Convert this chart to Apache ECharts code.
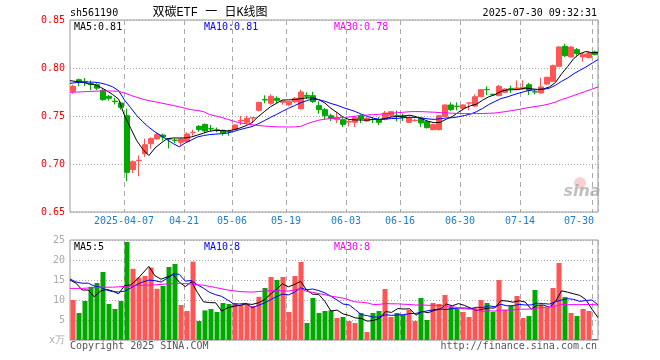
<!DOCTYPE html>
<html>
<head>
<meta charset="utf-8">
<script src="https://cdn.jsdelivr.net/npm/echarts@6/dist/echarts.min.js"></script>
<style>html,body{margin:0;padding:0;background:#fff}#c{width:660px;height:360px}</style>
</head>
<body>
<div id="c"></div>
<script>
const dates = ['03-24','03-25','03-26','03-27','03-28','03-31','04-01','04-02','04-03','04-07',
'04-08','04-09','04-10','04-11','04-14','04-15','04-16','04-17','04-18','04-21',
'04-22','04-23','04-24','04-25','04-28','04-29','04-30','05-06','05-07','05-08',
'05-09','05-12','05-13','05-14','05-15','05-16','05-19','05-20','05-21','05-22',
'05-23','05-26','05-27','05-28','05-29','05-30','06-03','06-04','06-05','06-06',
'06-09','06-10','06-11','06-12','06-13','06-16','06-17','06-18','06-19','06-20',
'06-23','06-24','06-25','06-26','06-27','06-30','07-01','07-02','07-03','07-04',
'07-07','07-08','07-09','07-10','07-11','07-14','07-15','07-16','07-17','07-18',
'07-21','07-22','07-23','07-24','07-25','07-28','07-29','07-30'];
const tickDates = ['04-07','04-21','05-06','05-19','06-03','06-16','06-30','07-14','07-30'];
const firstTickLabel = '2025-04-07';

const open = [0.7757,0.7878,0.786,0.7835,0.7826,0.7767,0.7705,0.7655,0.7635,0.7503,
0.6941,0.7034,0.7108,0.7212,0.7261,0.7302,0.7262,0.7249,0.7226,0.7233,
0.7327,0.7392,0.7413,0.7368,0.7355,0.7351,0.734,0.7358,0.7448,0.7434,
0.7479,0.7559,0.7671,0.7632,0.7684,0.7642,0.7618,0.7649,0.7575,0.7715,
0.7712,0.7608,0.7566,0.7503,0.7462,0.7462,0.7438,0.7434,0.7503,0.7448,
0.7463,0.7462,0.7469,0.7503,0.7504,0.7503,0.7434,0.7452,0.7476,0.7441,
0.7358,0.7358,0.7497,0.7615,0.7602,0.758,0.7635,0.7604,0.7701,0.7776,
0.7726,0.7712,0.7747,0.7785,0.7778,0.7781,0.7826,0.7753,0.774,0.7833,
0.7861,0.8017,0.8226,0.8115,0.8191,0.8115,0.8108,0.8167];
const close = [0.7809,0.7854,0.7855,0.783,0.779,0.767,0.7684,0.765,0.759,0.6913,
0.7024,0.7038,0.7201,0.7264,0.7306,0.7281,0.726,0.7246,0.726,0.7313,
0.733,0.7358,0.7344,0.7365,0.7354,0.7323,0.7337,0.7406,0.7455,0.7476,
0.7483,0.7642,0.7667,0.7705,0.7663,0.7656,0.7649,0.7684,0.775,0.7705,
0.765,0.7566,0.7503,0.7476,0.7483,0.7413,0.7441,0.7483,0.7469,0.7476,
0.7462,0.7434,0.7531,0.7545,0.75,0.7483,0.7483,0.7455,0.7427,0.7378,
0.741,0.7503,0.7615,0.7566,0.76,0.7615,0.7636,0.7701,0.7774,0.7774,
0.7722,0.7809,0.7781,0.7781,0.7792,0.7795,0.7767,0.775,0.7802,0.7903,
0.8024,0.8219,0.8128,0.8219,0.815,0.8144,0.8156,0.8139];
const low = [0.7733,0.781,0.781,0.777,0.777,0.766,0.766,0.762,0.7566,0.682,
0.6906,0.6872,0.7073,0.716,0.7253,0.7243,0.7163,0.7219,0.719,0.722,
0.7295,0.7337,0.7323,0.7337,0.733,0.7295,0.7295,0.7351,0.7406,0.7413,
0.7427,0.7549,0.7632,0.7615,0.7632,0.7618,0.7601,0.7635,0.7569,0.7677,
0.7635,0.7524,0.7462,0.7448,0.7427,0.7385,0.7392,0.7385,0.7427,0.7441,
0.7427,0.7406,0.7455,0.749,0.7444,0.7448,0.7427,0.744,0.7385,0.7371,
0.7351,0.7351,0.749,0.7552,0.7559,0.7559,0.7559,0.7597,0.7698,0.7719,
0.7712,0.7705,0.774,0.774,0.7767,0.7774,0.7719,0.7726,0.7733,0.7826,
0.7854,0.801,0.8115,0.8108,0.8128,0.8066,0.8101,0.8132];
const high = [0.7826,0.789,0.7896,0.787,0.784,0.778,0.772,0.769,0.765,0.7576,
0.7038,0.709,0.7264,0.7278,0.7323,0.7316,0.7267,0.7267,0.7267,0.733,
0.7358,0.7406,0.742,0.7406,0.738,0.7358,0.7358,0.7413,0.75,0.75,
0.7483,0.7649,0.7715,0.7726,0.7705,0.7667,0.7656,0.7698,0.7774,0.7747,
0.7753,0.7653,0.7583,0.7524,0.7538,0.7476,0.7462,0.75,0.7517,0.749,
0.749,0.749,0.7552,0.7552,0.7556,0.7524,0.749,0.747,0.749,0.7448,
0.742,0.751,0.7622,0.7642,0.7642,0.7622,0.7636,0.7726,0.7781,0.7809,
0.7733,0.7826,0.7788,0.7816,0.7872,0.7872,0.7844,0.7771,0.7899,0.791,
0.8035,0.8226,0.8253,0.8226,0.8208,0.8156,0.817,0.8181];
const volume = [10.0,6.75,9.75,13.3,14.25,17.0,9.0,7.75,9.75,24.5,
17.8,15.6,16.0,18.1,12.8,13.5,18.25,19.0,8.75,7.25,
19.6,4.75,7.4,7.75,7.0,9.25,9.0,9.25,8.75,9.0,
8.5,10.8,13.0,15.75,15.0,15.75,7.0,16.0,19.5,4.25,
10.5,6.75,7.25,7.4,5.5,5.75,4.75,4.25,6.75,2.0,
6.75,7.25,12.75,5.75,6.75,6.25,7.5,4.75,10.5,5.0,
9.25,9.0,11.25,8.25,7.75,7.0,5.75,8.0,10.0,9.25,
7.0,15.0,7.5,8.5,11.0,5.5,6.0,12.5,8.75,8.0,
13.0,19.25,10.75,6.75,6.0,7.75,7.25,0.25];

// moving-average values for days whose window reaches before the first shown day
const ma5Head = [0.7868,0.786,0.7852,0.7836];
const ma10Head = [0.784,0.7848,0.7852,0.7854,0.7852,0.7844,0.7828,0.7805,0.7765];
const ma30Head = [0.7747,0.7749,0.7752,0.7755,0.7758,0.776,0.776,0.776,0.7757,0.774,
0.7715,0.7695,0.7675,0.766,0.7648,0.7635,0.7622,0.761,0.7595,0.758,
0.7565,0.7558,0.7545,0.7515,0.75,0.7485,0.7465,0.7445,0.7428];
const volMa5Head = [15.0,14.2,12.5,12.5];
const volMa10Head = [15.25,14.5,14.2,14.2,13.5,13.2,12.5,12.1,12.0];
const volMa30Head = [12.9,12.9,12.9,13.0,13.1,13.2,13.2,13.2,13.3,13.4,
13.5,13.6,13.7,13.7,13.8,13.9,14.0,14.1,14.2,14.1,
14.0,13.8,13.7,13.4,13.1,12.8,12.5,12.3,12.1];

const priceLegend = ['MA5:0.81','MA10:0.81','MA30:0.78'];
const volLegend = ['MA5:5','MA10:8','MA30:8'];
const code = 'sh561190';
const titleText = '双碳ETF 一 日K线图';
const stamp = '2025-07-30 09:32:31';

function movingAvg(arr, n, head){
  return arr.map((v,i)=>{
    if(i < n-1) return head[i];
    let s=0; for(let k=i-n+1;k<=i;k++) s+=arr[k];
    return +(s/n).toFixed(5);
  });
}
const RED='#ff5555', GREEN='#00a800', BLUE='#0000ff', MAG='#ff00ff';
const FONT='"DejaVu Sans Mono", "Liberation Mono", monospace';
const tickSet = new Set(tickDates.map(d=>dates.indexOf(d)));
const lastTick = dates.indexOf(tickDates[tickDates.length-1]);
const firstTick = dates.indexOf(tickDates[0]);
const splitFn = (idx)=>tickSet.has(idx);
const candles = dates.map((d,i)=>[open[i],close[i],low[i],high[i]]);
const vols = volume.map((v,i)=>({value:v,itemStyle:{color: close[i]>=open[i]?RED:GREEN}}));

const dashed = {show:true, interval:splitFn, lineStyle:{color:'#aaa', type:[5,4], width:1}};
const dotted = {show:true, lineStyle:{color:'#aaa', type:[1,2], width:1}};

const option = {
  animation:false,
  backgroundColor:'#fff',
  grid:[
    {left:70, right:62, top:20, height:192, show:true, borderColor:'#999', borderWidth:1},
    {left:70, right:62, top:240, height:100, show:true, borderColor:'#999', borderWidth:1}
  ],
  xAxis:[
    {type:'category', gridIndex:0, data:dates, boundaryGap:true,
     axisLine:{show:false}, axisTick:{show:false}, splitLine:dashed,
     axisLabel:{interval:splitFn, color:'#1a7fd0', fontFamily:FONT, fontSize:10, margin:4,
       formatter:(v,idx)=> idx===firstTick ? '{a|'+firstTickLabel+'}' : (idx===lastTick ? '{b|'+v+'}' : '{a|'+v+'}'),
       rich:{a:{padding:[0,6,0,0], color:'#1a7fd0', fontFamily:FONT, fontSize:10},
             b:{padding:[0,32,0,0], color:'#1a7fd0', fontFamily:FONT, fontSize:10}}}},
    {type:'category', gridIndex:0, data:dates, boundaryGap:false, show:false},
    {type:'category', gridIndex:1, data:dates, boundaryGap:true,
     axisLine:{show:false}, axisTick:{show:false}, axisLabel:{show:false}, splitLine:dashed},
    {type:'category', gridIndex:1, data:dates, boundaryGap:false, show:false}
  ],
  yAxis:[
    {type:'value', gridIndex:0, min:0.65, max:0.85, interval:0.05, scale:true,
     axisLine:{show:false}, axisTick:{show:false}, splitLine:dotted,
     axisLabel:{color:'#ff0000', fontFamily:FONT, fontSize:10, margin:5, formatter:v=>v.toFixed(2)}},
    {type:'value', gridIndex:1, min:0, max:25, interval:5,
     axisLine:{show:false}, axisTick:{show:false}, splitLine:dotted,
     axisLabel:{color:'#aaa', fontFamily:FONT, fontSize:10, margin:5, formatter:v=> v===0 ? 'x万' : String(v)}}
  ],
  series:[
    {type:'candlestick', xAxisIndex:0, yAxisIndex:0, data:candles, barWidth:5,
     itemStyle:{color:RED, color0:GREEN, borderColor:RED, borderColor0:GREEN, borderWidth:1}},
    {type:'line', xAxisIndex:1, yAxisIndex:0, data:movingAvg(close,5,ma5Head), symbol:'none', lineStyle:{color:'#000', width:1}},
    {type:'line', xAxisIndex:1, yAxisIndex:0, data:movingAvg(close,10,ma10Head), symbol:'none', lineStyle:{color:BLUE, width:1}},
    {type:'line', xAxisIndex:1, yAxisIndex:0, data:movingAvg(close,30,ma30Head), symbol:'none', lineStyle:{color:MAG, width:1}},
    {type:'bar', xAxisIndex:2, yAxisIndex:1, data:vols, barWidth:5},
    {type:'line', xAxisIndex:3, yAxisIndex:1, data:movingAvg(volume,5,volMa5Head), symbol:'none', lineStyle:{color:'#000', width:1}},
    {type:'line', xAxisIndex:3, yAxisIndex:1, data:movingAvg(volume,10,volMa10Head), symbol:'none', lineStyle:{color:BLUE, width:1}},
    {type:'line', xAxisIndex:3, yAxisIndex:1, data:movingAvg(volume,30,volMa30Head), symbol:'none', lineStyle:{color:MAG, width:1}}
  ],
  graphic:[
    {type:'text', x:70, y:13, style:{text:code, fill:'#000', font:'10px '+FONT, textAlign:'left', textVerticalAlign:'middle', verticalAlign:'middle'}},
    {type:'text', x:210, y:13, style:{text:titleText, fill:'#000', font:'12px "Liberation Mono", "Noto Sans CJK SC"', textAlign:'center', textVerticalAlign:'middle', verticalAlign:'middle'}},
    {type:'text', x:597, y:13, style:{text:stamp, fill:'#000', font:'10px '+FONT, textAlign:'right', textVerticalAlign:'middle', verticalAlign:'middle'}},
    {type:'text', x:74, y:27, style:{text:priceLegend[0], fill:'#000', font:'10px '+FONT, textVerticalAlign:'middle', verticalAlign:'middle'}},
    {type:'text', x:204, y:27, style:{text:priceLegend[1], fill:BLUE, font:'10px '+FONT, textVerticalAlign:'middle', verticalAlign:'middle'}},
    {type:'text', x:334, y:27, style:{text:priceLegend[2], fill:MAG, font:'10px '+FONT, textVerticalAlign:'middle', verticalAlign:'middle'}},
    {type:'text', x:74, y:247, style:{text:volLegend[0], fill:'#000', font:'10px '+FONT, textVerticalAlign:'middle', verticalAlign:'middle'}},
    {type:'text', x:204, y:247, style:{text:volLegend[1], fill:BLUE, font:'10px '+FONT, textVerticalAlign:'middle', verticalAlign:'middle'}},
    {type:'text', x:334, y:247, style:{text:volLegend[2], fill:MAG, font:'10px '+FONT, textVerticalAlign:'middle', verticalAlign:'middle'}},
    {type:'text', x:70, y:346, style:{text:'Copyright 2025 SINA.COM', fill:'#555', font:'10px '+FONT, textVerticalAlign:'middle', verticalAlign:'middle'}},
    {type:'text', x:597, y:346, style:{text:'http://finance.sina.com.cn', fill:'#555', font:'10px '+FONT, textAlign:'right', textVerticalAlign:'middle', verticalAlign:'middle'}},
    {type:'circle', shape:{cx:580, cy:183, r:6}, style:{fill:'rgba(240,150,150,0.45)'}, silent:true},
    {type:'text', x:582, y:192, style:{text:'sina', fill:'rgba(150,150,150,0.6)', font:'italic bold 16px "DejaVu Sans"', textAlign:'center', textVerticalAlign:'middle', verticalAlign:'middle'}, silent:true}
  ]
};
const chart = echarts.init(document.getElementById('c'), null, {renderer:'canvas'});
chart.setOption(option);
</script>
</body>
</html>
